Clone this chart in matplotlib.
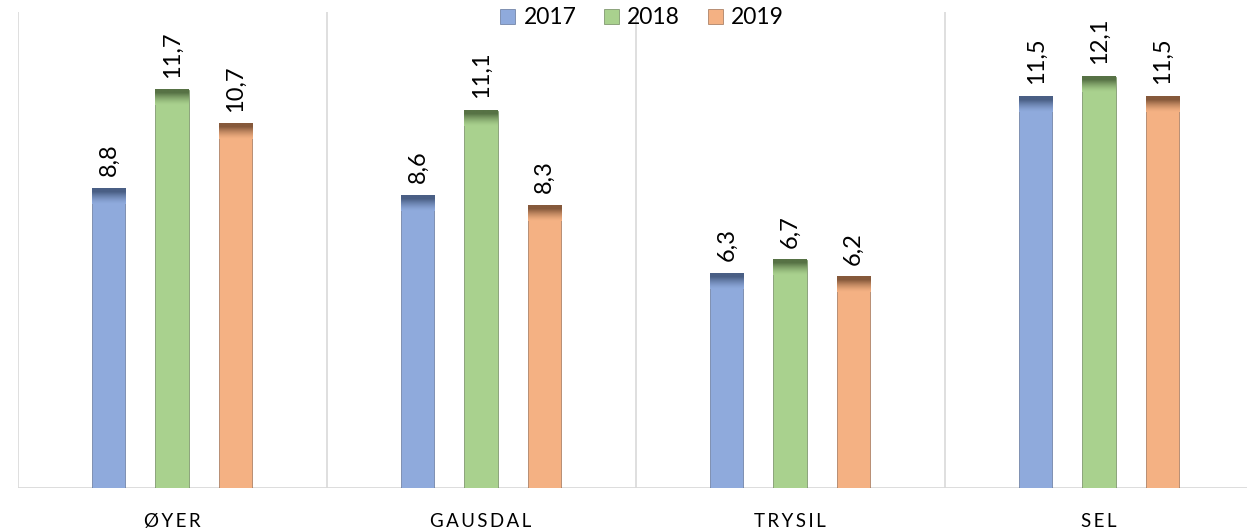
import numpy as np
import matplotlib
matplotlib.use("Agg")
import matplotlib.pyplot as plt
from matplotlib.colors import to_rgb

categories = ["ØYER", "GAUSDAL", "TRYSIL", "SEL"]
years = ["2017", "2018", "2019"]
values_2017 = [8.8, 8.6, 6.3, 11.5]
values_2018 = [11.7, 11.1, 6.7, 12.1]
values_2019 = [10.7, 8.3, 6.2, 11.5]

series = [values_2017, values_2018, values_2019]
base_colors = ["#8FAADC", "#A9D18E", "#F4B183"]
cap_colors = ["#4A5F85", "#577245", "#86593B"]

plt.rcParams["font.family"] = ["Lato", "DejaVu Sans"]

W, H = 1247, 532
fig = plt.figure(figsize=(W / 100, H / 100), dpi=100)
ax = fig.add_axes([17.5 / W, (H - 488) / H, 1236 / W, 476 / H])

offsets = [-0.204, 0.0, 0.204]
bar_w = 0.107
cap_h = 0.45

for si, (vals, base, cap) in enumerate(zip(series, base_colors, cap_colors)):
    xs = np.arange(len(categories)) + offsets[si]
    ax.bar(xs, vals, width=bar_w, color=base, edgecolor=cap, linewidth=0.4,
           label=years[si], zorder=3)
    # darker shading near the top of each bar
    b = np.array(to_rgb(base))
    c = np.array(to_rgb(cap))
    t = np.linspace(0, 1, 64)[:, None]
    w = np.clip(1.3 * (1 - t), 0, 1) ** 1.4
    grad = (w * c + (1 - w) * b)[:, None, :]
    for x, v in zip(xs, vals):
        ax.imshow(grad, extent=(x - bar_w / 2, x + bar_w / 2, v - cap_h, v),
                  aspect="auto", origin="upper", zorder=4, interpolation="bilinear")
        ax.annotate(f"{v:.1f}".replace(".", ","), (x, v), xytext=(0, 9),
                    textcoords="offset points", rotation=90, ha="center",
                    va="bottom", fontsize=17, color="#000000", zorder=5)

ax.set_xlim(-0.5, 3.5)
ax.set_ylim(0, 14)

for b in np.arange(-0.5, 4.0, 1.0):
    ax.axvline(b, color="#D9D9D9", linewidth=1.2, zorder=1)
ax.axhline(0, color="#D9D9D9", linewidth=2.0, zorder=2)

for s in ax.spines.values():
    s.set_visible(False)
ax.set_yticks([])
ax.set_xticks(range(len(categories)))
ax.set_xticklabels(["\u2009".join(c) for c in categories], fontsize=13.5,
                   color="#000000")
ax.tick_params(axis="x", length=0, pad=18)

leg = fig.legend(loc="center", bbox_to_anchor=(642 / W, 1 - 18 / H), ncol=3,
                 frameon=False, fontsize=16.5, handlelength=0.68, handleheight=0.68,
                 handletextpad=0.35, columnspacing=1.2)
for h, c in zip(leg.legend_handles, cap_colors):
    h.set_edgecolor(c)

fig.savefig("out.png", dpi=100)
